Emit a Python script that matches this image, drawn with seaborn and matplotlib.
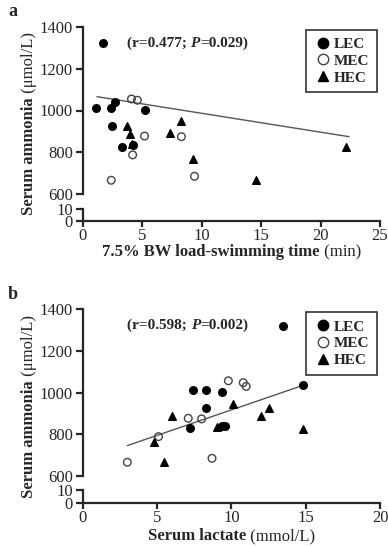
import matplotlib
matplotlib.use('Agg')
import matplotlib.pyplot as plt
from matplotlib.lines import Line2D
import seaborn as sns
import pandas as pd

# panel a: swimming time vs ammonia
lec_a_x = [1.7, 1.1, 2.4, 2.7, 5.2, 2.5, 3.3, 4.2]
lec_a_y = [1320, 1013, 1013, 1040, 1004, 926, 827, 835]
mec_a_x = [4.1, 4.6, 5.2, 8.3, 4.2, 2.4, 9.4]
mec_a_y = [1055, 1049, 878, 875, 788, 667, 686]
hec_a_x = [3.7, 4.0, 4.15, 7.3, 8.3, 9.25, 14.6, 22.1]
hec_a_y = [926, 886, 842, 894, 950, 770, 668, 827]
fit_a_x = [1.2, 22.4]
fit_a_y = [1066, 875]

# panel b: lactate vs ammonia
lec_b_x = [13.5, 7.4, 8.3, 9.4, 8.3, 7.2, 9.4, 9.6, 14.8]
lec_b_y = [1320, 1013, 1013, 1002, 925, 829, 838, 840, 1037]
mec_b_x = [9.8, 10.8, 11.0, 7.1, 8.0, 5.1, 3.0, 8.7]
mec_b_y = [1057, 1048, 1030, 877, 874, 789, 666, 685]
hec_b_x = [6.0, 4.8, 5.5, 10.1, 12.5, 12.0, 9.05, 14.8]
hec_b_y = [888, 765, 666, 944, 928, 890, 834, 826]
fit_b_x = [3.0, 14.7]
fit_b_y = [746, 1032]

groups = ['LEC', 'MEC', 'HEC']
y_ticks = [600, 800, 1000, 1200, 1400]

sns.set_style('ticks')
plt.rcParams['font.family'] = ['Liberation Serif', 'DejaVu Serif']
plt.rcParams['font.size'] = 12

fig = plt.figure(figsize=(3.88, 5.46), dpi=100)

styles = {
    'LEC': dict(marker='o', facecolor='black', edgecolor='black'),
    'MEC': dict(marker='o', facecolor='none', edgecolor='#444444'),
    'HEC': dict(marker='^', facecolor='black', edgecolor='black'),
}


def make_df(lx, ly, mx, my, hx, hy):
    parts = []
    for g, xs, ys in zip(groups, [lx, mx, hx], [ly, my, hy]):
        parts.append(pd.DataFrame({'x': xs, 'y': ys, 'group': g}))
    return pd.concat(parts, ignore_index=True)


def panel(top, bot, low_top, low_bot, df, fit_x, fit_y, xmax, xlabel_bold, xlabel_plain,
          stat_r, stat_p, stat_pos, letter):
    left, width = 82.7 / 388, (380 - 82.7) / 388
    H = 546
    ax = fig.add_axes([left, 1 - bot / H, width, (bot - top) / H])
    axl = fig.add_axes([left, 1 - low_bot / H, width, (low_bot - low_top) / H])

    for g in groups:
        sub = df[df['group'] == g]
        st = styles[g]
        sns.scatterplot(x=sub['x'], y=sub['y'], ax=ax, marker=st['marker'], s=30,
                        facecolor=st['facecolor'], edgecolor=st['edgecolor'],
                        linewidth=1.0, zorder=3, legend=False)
    sns.lineplot(x=fit_x, y=fit_y, ax=ax, color='#555555', linewidth=1.0, zorder=2)

    ax.set_xlim(0, xmax)
    ax.set_ylim(600, 1400)
    ax.set_yticks(y_ticks)
    ax.set_yticks([600], minor=True)
    ax.set_xticks([])
    ax.set_xlabel('')
    ax.set_ylabel('')
    for s in ['top', 'right', 'bottom']:
        ax.spines[s].set_visible(False)
    ax.spines['left'].set_linewidth(1.6)
    ax.tick_params(axis='y', width=1.6, length=5, labelsize=12, pad=2)
    ax.tick_params(axis='y', which='minor', direction='in', width=1.6, length=5)

    axl.set_xlim(0, xmax)
    axl.set_ylim(0, 10)
    axl.set_yticks([0, 10])
    axl.set_yticks([10], minor=True)
    axl.set_xticks(range(0, xmax + 1, 5))
    for s in ['top', 'right']:
        axl.spines[s].set_visible(False)
    axl.spines['left'].set_linewidth(1.6)
    axl.spines['bottom'].set_linewidth(1.6)
    axl.tick_params(axis='y', width=1.6, length=5, labelsize=12, pad=2)
    axl.tick_params(axis='x', width=1.6, length=4, labelsize=12, pad=1)
    axl.tick_params(axis='y', which='minor', direction='in', width=1.6, length=5)
    axl.patch.set_alpha(0)

    # legend
    handles = []
    for g in groups:
        st = styles[g]
        handles.append(Line2D([], [], linestyle='none', marker=st['marker'], markersize=7.5,
                              markerfacecolor=st['facecolor'], markeredgecolor=st['edgecolor'],
                              markeredgewidth=1.0, label=g))
    leg = ax.legend(handles=handles, loc='upper right', bbox_to_anchor=(1.0, 1.0),
                    frameon=True, fancybox=False, edgecolor='black', borderaxespad=0.2,
                    prop={'family': 'Liberation Serif', 'weight': 'bold', 'size': 11},
                    handletextpad=0.1, labelspacing=0.2, borderpad=0.5, handlelength=1.2)
    leg.get_frame().set_linewidth(1.2)

    # stat annotation
    t1 = ax.text(stat_pos[0], stat_pos[1], f'(r={stat_r}; ', fontsize=11, fontweight='bold',
                 va='center', ha='left')
    t2 = ax.annotate('P', xy=(1, 0), xycoords=t1, va='bottom', ha='left', fontsize=11,
                     fontweight='bold', fontstyle='italic')
    ax.annotate(f'={stat_p})', xy=(1, 0), xycoords=t2, va='bottom', ha='left', fontsize=11,
                fontweight='bold')

    # x label: bold part + plain part
    xl = fig.text(0, 0, xlabel_bold, fontsize=12, fontweight='bold', ha='left', va='center')
    xl2 = fig.text(0, 0, ' ' + xlabel_plain, fontsize=12, ha='left', va='center')

    # y label
    yl = fig.text(29 / 388, 0, 'Serum ammonia', fontsize=12, fontweight='bold',
                  rotation=90, ha='center', va='center')
    yl2 = fig.text(29 / 388, 0, ' (\u03bcmol/L)', fontsize=12, rotation=90,
                   ha='center', va='center')

    fig.text(8 / 388, 1 - (top - 15) / H, letter, fontsize=13, fontweight='bold',
             ha='left', va='center')
    return ax, axl, (xl, xl2), (yl, yl2), (top, low_bot)


df_a = make_df(lec_a_x, lec_a_y, mec_a_x, mec_a_y, hec_a_x, hec_a_y)
df_b = make_df(lec_b_x, lec_b_y, mec_b_x, mec_b_y, hec_b_x, hec_b_y)

pa = panel(26.7, 194.3, 209, 220.7, df_a, fit_a_x, fit_a_y, 25,
           '7.5% BW load-swimming time', '(min)', '0.477', '0.029', (3.7, 1321), 'a')
pb = panel(309.3, 476, 490, 503.3, df_b, fit_b_x, fit_b_y, 20,
           'Serum lactate', '(mmol/L)', '0.598', '0.002', (3.0, 1325), 'b')

# position composite labels
fig.canvas.draw()
r = fig.canvas.get_renderer()
W, H = 388, 546
for p, xl_center in [(pa, 252.5), (pb, 536)]:
    (xl, xl2), (yl, yl2), (top, low_bot) = p[2], p[3], p[4]
    w1 = xl.get_window_extent(r).width
    w2 = xl2.get_window_extent(r).width
    x0 = 231.5 - (w1 + w2) / 2
    yc_x = 1 - xl_center / H
    xl.set_position((x0 / W, yc_x))
    xl2.set_position(((x0 + w1) / W, yc_x))
    h1 = yl.get_window_extent(r).height
    h2 = yl2.get_window_extent(r).height
    yc = (top + low_bot) / 2
    y0 = (H - yc) - (h1 + h2) / 2
    yl.set_position((29 / W, (y0 + h1 / 2) / H))
    yl2.set_position((29 / W, (y0 + h1 + h2 / 2) / H))

fig.savefig('out.png', dpi=100)
